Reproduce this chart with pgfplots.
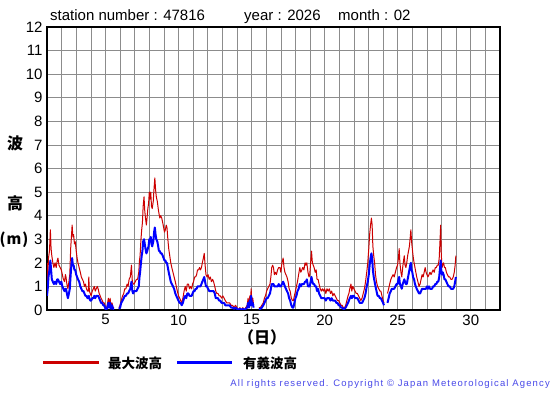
\documentclass[border=0pt]{standalone}
\usepackage{fontspec}
\setmainfont{Liberation Sans}
\newfontfamily\jp{Noto Sans CJK JP}
\newfontfamily\cpfont[LetterSpace=12]{Liberation Sans}
\usepackage{pgfplots}
\usepackage{pgfplotstable}
\pgfplotsset{compat=1.18}
\definecolor{hmaxc}{HTML}{CC0000}
\definecolor{hsigc}{HTML}{0000FF}
\definecolor{gridc}{HTML}{8C8C8C}
\definecolor{cpc}{HTML}{4848E8}
\pgfplotstableread{
day hmax hsig
1.00 2.0 0.6
1.05 1.2 0.9
1.10 2.2 1.4
1.17 2.5 1.7
1.23 3.4 2.1
1.28 2.6 1.7
1.33 2.3 1.3
1.40 2.0 1.2
1.47 1.8 1.1
1.55 2.0 1.2
1.63 1.8 1.1
1.70 2.1 1.3
1.75 2.2 1.3
1.82 1.9 1.2
1.90 1.8 1.1
1.98 1.7 1.2
2.05 1.5 1.0
2.12 1.3 0.9
2.20 1.2 0.8
2.26 1.5 0.9
2.30 1.4 0.9
2.36 1.1 0.7
2.43 0.9 0.5
2.50 1.2 0.7
2.56 1.5 0.9
2.62 2.6 1.5
2.67 3.1 1.9
2.72 3.6 2.2
2.77 3.1 1.9
2.82 3.2 1.9
2.88 2.8 1.7
2.93 2.9 1.7
3.00 2.5 1.5
3.06 2.2 1.4
3.12 2.0 1.3
3.20 1.8 1.2
3.28 1.6 1.0
3.35 1.4 0.9
3.42 1.3 0.8
3.50 1.2 0.8
3.56 1.0 0.7
3.63 1.1 0.6
3.70 0.9 0.6
3.77 0.8 0.5
3.83 0.8 0.5
3.86 1.4 0.6
3.90 0.8 0.5
3.96 0.7 0.4
4.02 0.6 0.4
4.10 0.8 0.5
4.17 0.9 0.5
4.24 1.0 0.6
4.30 0.8 0.5
4.37 0.9 0.6
4.44 1.0 0.6
4.50 0.9 0.6
4.57 0.7 0.5
4.64 0.6 0.4
4.70 0.5 0.3
4.78 0.4 0.3
4.85 0.3 0.2
4.92 0.3 0.2
5.00 0.1 0.05
5.05 0.0 0.0
5.12 0.2 0.1
5.20 0.5 0.3
5.25 0.2 0.1
5.32 0.5 0.3
5.38 0.1 0.05
5.45 0.3 0.2
5.52 0.1 0.05
5.60 0.1 0.05
5.75 nan nan
5.92 0.1 0.05
6.00 0.2 0.1
6.08 0.4 0.3
6.17 0.6 0.4
6.25 0.7 0.5
6.32 0.9 0.6
6.40 0.9 0.6
6.48 1.1 0.7
6.55 1.0 0.7
6.62 1.3 0.8
6.70 1.4 0.9
6.78 1.9 1.2
6.84 1.2 0.8
6.90 1.1 0.7
6.96 1.1 0.8
7.04 1.2 0.8
7.12 1.3 0.8
7.20 1.3 0.9
7.28 1.6 1.0
7.33 2.1 1.4
7.37 2.3 1.6
7.43 3.0 2.0
7.48 3.4 2.3
7.53 3.7 2.5
7.58 4.4 2.9
7.64 4.8 3.0
7.69 4.2 2.8
7.74 3.9 2.6
7.80 3.6 2.4
7.86 4.0 2.5
7.90 4.3 2.6
7.95 4.5 2.7
8.00 5.0 3.0
8.05 4.7 2.9
8.10 5.0 3.1
8.15 4.4 2.8
8.20 4.3 2.7
8.27 4.6 2.9
8.33 5.2 3.3
8.38 5.6 3.5
8.43 5.1 3.2
8.48 4.8 3.0
8.55 4.6 2.9
8.61 4.3 2.7
8.66 4.1 2.5
8.72 3.9 2.5
8.78 4.0 2.4
8.85 3.9 2.4
8.92 3.7 2.3
8.98 3.5 2.2
9.04 3.3 2.1
9.10 3.4 2.1
9.16 3.6 2.0
9.21 3.5 2.0
9.27 3.0 1.8
9.33 2.6 1.6
9.40 2.3 1.4
9.47 2.0 1.2
9.54 1.8 1.1
9.62 1.6 1.0
9.70 1.4 0.9
9.78 1.2 0.7
9.85 1.0 0.6
9.92 0.8 0.5
10.00 0.6 0.4
10.08 0.5 0.3
10.15 0.4 0.3
10.22 0.3 0.2
10.30 0.5 0.3
10.38 0.8 0.5
10.46 1.0 0.6
10.53 0.8 0.5
10.60 1.1 0.7
10.68 1.1 0.7
10.75 0.9 0.6
10.82 1.0 0.6
10.90 0.9 0.6
10.96 1.1 0.7
11.03 1.2 0.8
11.10 1.4 0.8
11.17 1.4 0.9
11.24 1.5 0.9
11.30 1.7 1.0
11.37 1.7 1.0
11.44 1.8 1.0
11.50 1.7 1.0
11.57 1.8 1.1
11.63 2.0 1.2
11.70 2.2 1.3
11.76 2.4 1.4
11.82 1.9 1.2
11.88 1.5 1.0
11.95 1.4 1.0
12.02 1.5 0.9
12.10 1.3 0.8
12.18 1.4 0.8
12.25 1.2 0.8
12.33 1.3 0.8
12.40 1.2 0.8
12.48 1.0 0.7
12.55 0.8 0.5
12.62 0.7 0.5
12.70 0.7 0.5
12.78 0.6 0.4
12.86 0.6 0.4
12.95 0.5 0.3
13.03 0.6 0.3
13.12 0.5 0.3
13.20 0.4 0.2
13.30 0.3 0.2
13.40 0.3 0.2
13.50 0.3 0.2
13.60 0.2 0.1
13.70 0.2 0.1
13.80 0.1 0.05
13.90 0.2 0.1
14.00 0.1 0.05
14.10 0.0 0.0
14.20 0.1 0.05
14.30 0.0 0.0
14.40 0.1 0.05
14.50 0.0 0.0
14.60 0.1 0.05
14.70 0.2 0.1
14.76 0.5 0.3
14.82 0.2 0.1
14.88 0.6 0.4
14.93 0.4 0.2
14.97 0.9 0.6
15.02 0.3 0.2
15.08 0.5 0.3
15.14 0.2 0.1
15.30 nan nan
15.50 0.1 0.05
15.60 0.1 0.05
15.70 0.2 0.1
15.80 0.3 0.2
15.88 0.5 0.3
15.95 0.6 0.4
16.03 0.8 0.5
16.10 0.9 0.5
16.18 1.0 0.6
16.26 1.1 0.7
16.32 1.4 0.9
16.38 1.8 1.1
16.44 1.9 1.1
16.50 1.8 1.1
16.56 1.5 1.0
16.62 1.6 1.0
16.70 1.5 1.0
16.78 1.7 1.0
16.86 1.8 1.1
16.94 1.8 1.0
17.00 1.6 1.0
17.08 2.0 1.1
17.16 2.2 1.2
17.22 1.8 1.1
17.28 1.6 1.0
17.35 1.5 0.9
17.42 1.4 0.8
17.50 1.2 0.7
17.57 0.9 0.5
17.64 0.8 0.4
17.72 0.5 0.2
17.80 0.4 0.1
17.86 0.4 0.1
17.93 0.6 0.3
18.00 0.8 0.5
18.07 1.0 0.6
18.14 1.2 0.8
18.22 1.5 0.9
18.30 1.8 1.1
18.37 1.6 1.0
18.44 1.7 1.1
18.50 1.8 1.1
18.58 1.7 1.1
18.66 2.0 1.2
18.72 1.9 1.2
18.78 2.0 1.3
18.86 1.6 1.0
18.93 1.4 1.0
18.98 1.5 1.0
19.04 2.0 1.2
19.10 2.5 1.4
19.16 2.0 1.2
19.22 1.9 1.1
19.28 1.8 1.1
19.35 1.6 1.0
19.42 1.7 1.0
19.48 1.3 0.8
19.55 1.3 0.9
19.62 1.1 0.7
19.70 0.9 0.6
19.77 0.8 0.5
19.85 0.9 0.5
19.92 0.8 0.5
20.00 0.9 0.5
20.08 0.7 0.4
20.16 0.9 0.5
20.24 0.8 0.5
20.32 0.9 0.5
20.40 0.7 0.4
20.48 0.8 0.5
20.56 0.6 0.4
20.64 0.7 0.4
20.72 0.6 0.4
20.80 0.5 0.3
20.88 0.4 0.3
20.96 0.4 0.2
21.04 0.3 0.2
21.12 0.2 0.1
21.20 0.2 0.1
21.28 0.1 0.05
21.36 0.1 0.05
21.44 0.2 0.1
21.52 0.4 0.2
21.60 0.6 0.3
21.66 0.7 0.4
21.72 0.9 0.5
21.80 1.1 0.6
21.86 0.8 0.5
21.92 1.0 0.6
22.00 0.9 0.6
22.08 0.8 0.5
22.16 0.7 0.5
22.24 0.7 0.5
22.32 0.6 0.4
22.40 0.5 0.3
22.48 0.4 0.3
22.56 0.5 0.3
22.64 0.7 0.4
22.72 0.9 0.5
22.80 1.2 0.7
22.88 1.6 1.0
22.95 2.0 1.2
23.02 2.6 1.5
23.08 3.2 1.9
23.14 3.6 2.2
23.20 3.9 2.4
23.25 3.6 2.2
23.30 2.7 1.7
23.36 2.3 1.4
23.42 2.0 1.2
23.48 1.5 1.0
23.55 1.2 0.8
23.62 1.0 0.6
23.70 0.9 0.6
23.78 0.8 0.5
23.85 0.8 0.5
23.92 0.6 0.4
24.00 0.4 0.3
24.06 0.3 0.2
24.18 nan nan
24.30 0.7 0.3
24.38 0.9 0.5
24.45 1.1 0.7
24.53 1.3 0.8
24.60 1.4 0.9
24.68 1.5 0.9
24.76 1.4 0.9
24.84 1.6 1.0
24.92 1.8 1.1
24.99 1.9 1.1
25.05 2.2 1.3
25.10 2.6 1.4
25.15 2.0 1.1
25.22 1.6 1.0
25.28 1.4 0.9
25.34 1.8 1.1
25.40 2.1 1.2
25.45 2.3 1.3
25.50 1.9 1.2
25.56 1.8 1.1
25.62 2.0 1.1
25.68 2.3 1.3
25.74 2.5 1.5
25.80 2.7 1.7
25.86 3.1 1.9
25.90 3.4 2.0
25.95 2.9 1.7
26.00 2.6 1.6
26.05 2.3 1.4
26.12 2.0 1.3
26.18 1.8 1.1
26.24 1.6 1.0
26.30 1.4 0.9
26.38 1.2 0.8
26.46 1.0 0.7
26.53 1.1 0.7
26.60 1.3 0.8
26.67 1.5 0.9
26.74 1.4 0.9
26.81 1.6 0.9
26.88 1.8 0.9
26.94 1.6 0.9
27.00 1.5 1.0
27.07 1.4 0.9
27.14 1.5 1.0
27.21 1.6 0.9
27.28 1.5 0.9
27.35 1.6 0.9
27.42 1.7 1.0
27.50 1.6 1.0
27.57 1.8 1.1
27.64 1.8 1.1
27.71 1.9 1.2
27.78 1.9 1.2
27.84 2.2 1.4
27.90 3.0 1.8
27.94 3.6 2.1
27.98 2.4 1.7
28.03 1.8 1.5
28.08 1.9 1.6
28.14 2.0 1.5
28.20 1.8 1.3
28.26 1.8 1.3
28.33 1.6 1.2
28.40 1.5 1.1
28.48 1.4 1.0
28.56 1.4 1.0
28.64 1.3 0.9
28.72 1.3 0.9
28.80 1.4 0.9
28.87 1.6 1.0
28.93 1.9 1.2
28.98 2.3 1.4
}\wavedata
\begin{document}
\begin{tikzpicture}[x=1pt,y=1pt]
\path[use as bounding box] (0,0) rectangle (555,395);
\begin{axis}[
  at={(47pt,85pt)}, anchor=south west,
  scale only axis, width=453pt, height=283pt,
  xmin=1, xmax=32, ymin=0, ymax=12,
  xtick={5,10,15,20,25,30},
  minor xtick={1,2,...,32},
  ytick={0,1,...,12},
  grid=both,
  major grid style={gridc, line width=0.6pt},
  minor grid style={gridc, line width=0.6pt},
  major tick length=0pt, minor tick length=0pt,
  axis line style={black, line width=1.4pt},
  tick label style={font=\fontsize{15}{15}\selectfont},
  /pgf/number format/assume math mode=true,
  yticklabel style={xshift=-1pt},
  xticklabel style={yshift=-1pt},
  unbounded coords=jump,
  clip=true,
]
\addplot[hmaxc, line width=1pt, line join=round] table[x=day, y=hmax] {\wavedata};
\addplot[hsigc, line width=2pt, line join=round] table[x=day, y=hsig] {\wavedata};
\end{axis}
\node[anchor=base west, inner sep=0, font=\fontsize{15}{15}\selectfont] at (50,374) {station number : 47816};
\node[anchor=base west, inner sep=0, font=\fontsize{15}{15}\selectfont] at (244,374) {year : 2026};
\node[anchor=base west, inner sep=0, font=\fontsize{15}{15}\selectfont] at (338,374) {month : 02};
\node[inner sep=0, font=\jp\bfseries\fontsize{16}{16}\selectfont] at (15,252) {波};
\node[inner sep=0, font=\jp\bfseries\fontsize{16}{16}\selectfont] at (15,192) {高};
\node[inner sep=0, font=\jp\bfseries\fontsize{15}{15}\selectfont] at (14,155) {(\kern1pt m\kern1pt)};
\node[inner sep=0, font=\jp\bfseries\fontsize{16}{16}\selectfont] at (262,58) {（日）};
\draw[hmaxc, line width=3pt] (43,32) -- (99,32);
\node[anchor=west, inner sep=0, font=\jp\bfseries\fontsize{13.5}{13.5}\selectfont] at (108,32) {最大波高};
\draw[hsigc, line width=3pt] (177,32) -- (232,32);
\node[anchor=west, inner sep=0, font=\jp\bfseries\fontsize{13.5}{13.5}\selectfont] at (243,32) {有義波高};
\node[anchor=east, inner sep=0, text=cpc, font=\cpfont\fontsize{9.5}{9.5}\selectfont] at (550,11) {All rights reserved. Copyright © Japan Meteorological Agency};
\end{tikzpicture}
\end{document}
